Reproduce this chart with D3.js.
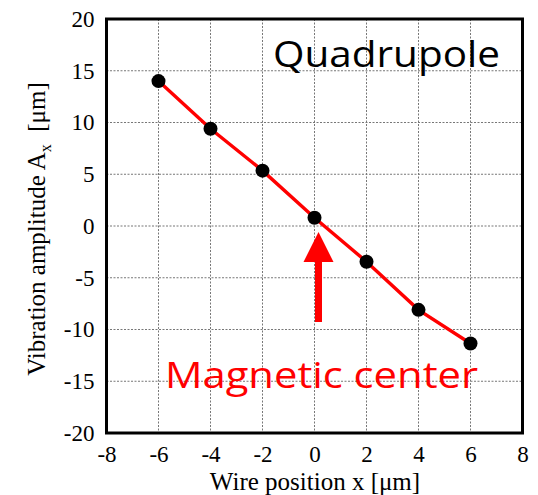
<!DOCTYPE html>
<html><head><meta charset="utf-8">
<script src="https://cdn.jsdelivr.net/npm/d3@7"></script>
<style>body{margin:0;background:#fff}svg{display:block}.tk text{font-family:'Liberation Serif','Times New Roman',serif;font-size:23px;fill:#000}</style>
</head><body>
<svg id="c" width="538" height="495"></svg>
<script>
const wirePos = [-6, -4, -2, 0, 2, 4, 6];
const amplitude = [14.0, 9.4, 5.35, 0.8, -3.45, -8.1, -11.35];
const xTicks = [-8, -6, -4, -2, 0, 2, 4, 6, 8];
const yTicks = [-20, -15, -10, -5, 0, 5, 10, 15, 20];

const svg = d3.select("#c");
const L = 106.5, R = 522.5, T = 19, B = 433;
const x = d3.scaleLinear().domain([-8, 8]).range([L, R]);
const y = d3.scaleLinear().domain([-20, 20]).range([B, T]);

// grid
const g = svg.append("g");
g.selectAll(".vx").data(xTicks.slice(1, -1)).enter().append("line")
  .attr("x1", d => x(d)).attr("x2", d => x(d)).attr("y1", T).attr("y2", B)
  .attr("stroke", "#777").attr("stroke-width", 1).attr("stroke-dasharray", "2,1.5");
g.selectAll(".hy").data(yTicks.slice(1, -1)).enter().append("line")
  .attr("y1", d => y(d)).attr("y2", d => y(d)).attr("x1", L).attr("x2", R)
  .attr("stroke", "#777").attr("stroke-width", 1).attr("stroke-dasharray", "2,1.5");

// axes labels
const serif = "'Liberation Serif','Times New Roman',serif";
const fmt = d => String(d);
svg.append("g").attr("class", "tk").attr("transform", `translate(0,${B})`)
  .call(d3.axisBottom(x).tickValues(xTicks).tickSize(0).tickPadding(13).tickFormat(fmt))
  .call(a => a.select(".domain").remove());
svg.append("g").attr("class", "tk").attr("transform", `translate(${L},0)`)
  .call(d3.axisLeft(y).tickValues(yTicks).tickSize(0).tickPadding(12).tickFormat(fmt))
  .call(a => a.select(".domain").remove());

// fit line
svg.append("path").datum(wirePos.map((d, i) => [d, amplitude[i]]))
  .attr("d", d3.line().x(d => x(d[0])).y(d => y(d[1])))
  .attr("fill", "none").attr("stroke", "#ff0000").attr("stroke-width", 3.4);

// points
svg.selectAll(".pt").data(wirePos).enter().append("circle")
  .attr("cx", d => x(d)).attr("cy", (d, i) => y(amplitude[i])).attr("r", 7).attr("fill", "#000");

// frame
svg.append("rect").attr("x", L).attr("y", T).attr("width", R - L).attr("height", B - T)
  .attr("fill", "none").attr("stroke", "#000").attr("stroke-width", 3);

// axis titles
svg.append("text").attr("x", 315).attr("y", 490).attr("text-anchor", "middle")
  .attr("font-family", serif).attr("font-size", 25).text("Wire position x [μm]");
const yt = svg.append("text").attr("transform", "translate(45,229) rotate(-90)")
  .attr("text-anchor", "middle").attr("font-family", serif).attr("font-size", 25);
yt.append("tspan").text("Vibration amplitude A");
yt.append("tspan").attr("font-size", 16).attr("dy", 6).text("x");
yt.append("tspan").attr("dy", -6).text("\u00a0\u00a0[μm]");

// annotations
const sans = "'Open Sans','Noto Sans',sans-serif";
svg.append("text").attr("x", 273).attr("y", 67).attr("font-family", sans).attr("font-size", 36)
  .attr("fill", "#000").attr("textLength", 227).attr("lengthAdjust", "spacingAndGlyphs").text("Quadrupole");
svg.append("text").attr("x", 165).attr("y", 388).attr("font-family", sans).attr("font-size", 37)
  .attr("fill", "#ff0000").attr("textLength", 313).attr("lengthAdjust", "spacingAndGlyphs").text("Magnetic center");

// arrow
svg.append("rect").attr("x", x(0) + 0.5).attr("y", 260).attr("width", 7).attr("height", 62).attr("fill", "#ff0000");
svg.append("path").attr("d", `M${x(0) + 4},232 L${x(0) + 19},262 L${x(0) - 11},262 Z`).attr("fill", "#ff0000");
</script>
</body></html>
